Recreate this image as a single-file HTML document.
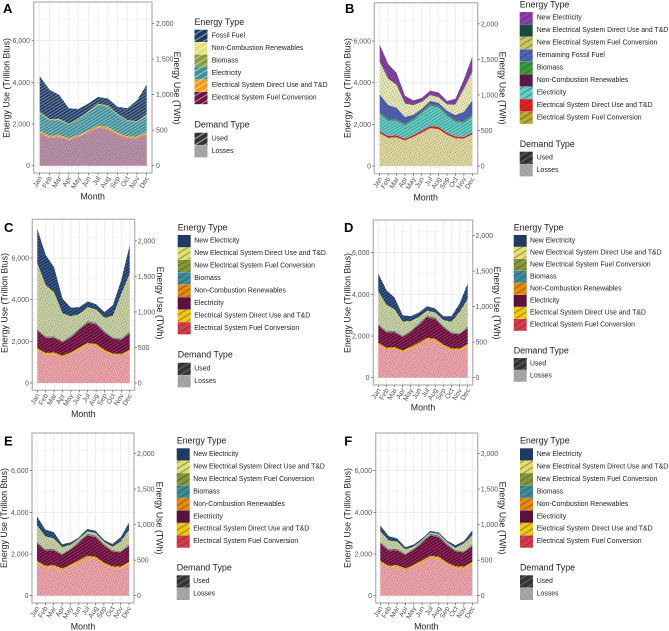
<!DOCTYPE html>
<html lang="en">
<head>
<meta charset="utf-8">
<title>Energy use by month</title>
<style>
html,body{margin:0;padding:0;background:#fff}
svg{display:block;font-family:"Liberation Sans",sans-serif;filter:blur(.3px)}
</style>
</head>
<body>
<svg id="fig" xmlns="http://www.w3.org/2000/svg" width="669" height="631" viewBox="0 0 669 631"></svg>
<script>
// ---- data (TBtu per month; each array is the thickness of one stacked layer) ----
const months = ['Jan','Feb','Mar','Apr','May','Jun','Jul','Aug','Sep','Oct','Nov','Dec'];
const leftTicks = [0,2000,4000,6000];
const rightTicks = [0,500,1000,1500,2000];
const fuelConversion = [1580,1350,1380,1230,1400,1600,1820,1770,1500,1330,1320,1520];
const directUse = [90,90,90,80,80,90,100,100,90,80,80,90];
const electricity = [850,730,710,650,720,860,980,950,830,720,680,790];
const biomass = [50,45,45,40,45,50,55,55,50,45,40,50];
const nonCombustion = [20,20,20,15,15,20,20,20,20,15,15,20];
const fossilA = [1710,1415,1155,735,470,360,325,335,340,570,995,1430];
const remainingFossilB = [860,695,555,335,200,130,155,135,160,260,465,680];
const newFuelB = [1550,1270,1100,650,460,330,270,270,300,500,1100,1370];
const newDirectB = [60,50,45,30,25,20,20,20,20,25,40,50];
const newElecB = [770,650,525,340,205,170,200,210,150,255,410,680];
const newFuelC = [3060,2365,2005,1265,890,650,605,585,590,980,2065,2680];
const newDirectC = [100,100,100,70,50,50,70,50,50,50,80,100];
const newElecC = [1650,1450,1200,700,420,320,270,250,270,510,670,1370];
const newFuelD = [1510,1215,985,635,420,240,205,195,240,450,965,1260];
const newDirectD = [50,50,50,50,40,40,40,40,40,40,50,50];
const newElecD = [850,700,570,300,230,230,210,190,180,270,400,740];
const newFuelE = [760,585,475,285,150,70,85,85,70,130,435,650];
const newDirectE = [30,30,30,30,30,30,30,30,30,30,30,30];
const newElecE = [420,320,300,140,120,80,110,110,90,130,200,350];
const newFuelF = [485,390,330,180,85,35,40,40,45,75,340,405];
const newDirectF = [25,25,25,25,25,25,25,25,25,25,25,25];
const newElecF = [270,210,150,110,80,70,70,70,80,130,120,230];
const TBTU_PER_TWH = 3.412;

// ---- series: listed top to bottom, as in each legend ----
const L = {ne:'New Electricity',nd:'New Electrical System Direct Use and T&D',nf:'New Electrical System Fuel Conversion',
  rf:'Remaining Fossil Fuel',ff:'Fossil Fuel',bm:'Biomass',nc:'Non-Combustion Renewables',el:'Electricity',
  du:'Electrical System Direct Use and T&D',fc:'Electrical System Fuel Conversion'};
function laterSeries(nf,nd,ne){return [
  {n:L.ne,c:'#1f3a66',ps:'#54709c',v:ne},{n:L.nd,c:'#e0e070',v:nd},{n:L.nf,c:'#84983a',v:nf,loss:1},
  {n:L.bm,c:'#3f8c98',v:biomass},{n:L.nc,c:'#e88a10',v:nonCombustion},{n:L.el,c:'#5e0f3c',ps:'#b8366e',v:electricity},
  {n:L.du,c:'#f0c810',v:directUse},{n:L.fc,c:'#d93a48',v:fuelConversion,loss:1}];}
const panels = [
 {id:'A',x0:33.7,x1:152,y0:2,y1:173,zero:165.7,jan:39.7,dec:146.7,lt:30,rt:156,ltx:6.7,rtx:177,mx:92.7,my:196.7,cy:88,
  lx:3,ly:13,legX:194.5,legT:22,legR:29.7,pitch:12.45,labX:211.7,demT:124.7,demR:132.7,stripe:'#ffffff',so:.62,
  series:[{n:L.ff,c:'#1f3a66',v:fossilA},{n:L.nc,c:'#e3e27a',v:nonCombustion},{n:L.bm,c:'#8a9c3c',v:biomass},
   {n:L.el,c:'#3f8f9a',v:electricity},{n:L.du,c:'#f09a20',v:directUse},{n:L.fc,c:'#6a1444',v:fuelConversion,loss:1}]},
 {id:'B',x0:374.3,x1:477.7,y0:2.7,y1:173.7,zero:166,jan:379.7,dec:472.3,lt:371,rt:480.7,ltx:347.3,rtx:502.3,mx:425.7,my:197.3,cy:88,
  lx:345,ly:13,legX:519.7,legT:4.3,legR:12,pitch:12.45,labX:536.7,demT:144,demR:151.7,stripe:'#333333',so:.55,
  series:[{n:L.ne,c:'#8b3fa8',v:newElecB},{n:L.nd,c:'#1b4a44',v:newDirectB},{n:L.nf,c:'#c9c964',v:newFuelB,loss:1},
   {n:L.rf,c:'#4e63b8',v:remainingFossilB},{n:L.bm,c:'#3a9a38',v:biomass},{n:L.nc,c:'#5a1a40',v:nonCombustion},
   {n:L.el,c:'#5fd0c8',v:electricity},{n:L.du,c:'#e02020',v:directUse},{n:L.fc,c:'#b8a830',v:fuelConversion,loss:1}]},
 {id:'C',x0:32.3,x1:134.7,y0:219.3,y1:390.3,zero:383,jan:37.3,dec:129.7,lt:29,rt:137.7,ltx:4.5,rtx:160,mx:83.3,my:414,cy:303,
  lx:4,ly:232,legX:177.7,legT:227.3,legR:235,pitch:12.45,labX:194.3,demT:354.7,demR:362.7,stripe:'#333333',so:.55,
  series:laterSeries(newFuelC,newDirectC,newElecC)},
 {id:'D',x0:373.3,x1:472.7,y0:220,y1:385,zero:377.7,jan:378.3,dec:467.7,lt:369.5,rt:475.5,ltx:347.7,rtx:497,mx:423,my:407.7,cy:303,
  lx:344,ly:232,legX:513.7,legT:227.3,legR:235,pitch:12,labX:530,demT:350.3,demR:358,stripe:'#333333',so:.55,
  series:laterSeries(newFuelD,newDirectD,newElecD)},
 {id:'E',x0:32,x1:134,y0:433,y1:603,zero:595.7,jan:37,dec:129,lt:28.5,rt:137,ltx:4,rtx:159.3,mx:83,my:626.7,cy:518,
  lx:4,ly:445.5,legX:176.7,legT:440.3,legR:448.3,pitch:12.45,labX:193.3,demT:567.3,demR:575.3,stripe:'#333333',so:.55,
  series:laterSeries(newFuelE,newDirectE,newElecE)},
 {id:'F',x0:375.7,x1:477.7,y0:433,y1:603,zero:595.7,jan:380.3,dec:472.3,lt:372,rt:480.7,ltx:347.7,rtx:502.7,mx:426.3,my:626.7,cy:518,
  lx:344.3,ly:445.5,legX:520,legT:440.3,legR:448.3,pitch:12.45,labX:536.7,demT:567.3,demR:575.3,stripe:'#333333',so:.55,
  series:laterSeries(newFuelF,newDirectF,newElecF)}
];

// ---- rendering ----
const NS='http://www.w3.org/2000/svg';
const svg=document.getElementById('fig');
const defs=document.createElementNS(NS,'defs');
svg.appendChild(defs);
function mk(tag,attrs,parent){
  const e=document.createElementNS(NS,tag);
  for(const k in attrs)e.setAttribute(k,attrs[k]);
  (parent||svg).appendChild(e);
  return e;
}
function txt(s,attrs,parent){const e=mk('text',attrs,parent);e.textContent=s;return e;}
let pid=0;
function mix(hex,w){
  const n=parseInt(hex.slice(1),16);
  const f=c=>Math.round(c*(1-w)+255*w);
  return 'rgb('+f(n>>16&255)+','+f(n>>8&255)+','+f(n&255)+')';
}
function stripePattern(color,stroke,op,size,sw){
  const id='p'+(pid++);
  const p=mk('pattern',{id:id,patternUnits:'userSpaceOnUse',width:size,height:size,patternTransform:'rotate(-32)'},defs);
  mk('rect',{width:size,height:size,fill:color},p);
  mk('line',{x1:0,x2:size,y1:size/2,y2:size/2,stroke:stroke,'stroke-width':sw,'stroke-opacity':op},p);
  return 'url(#'+id+')';
}
function dotPattern(color,size){
  const id='p'+(pid++);
  const p=mk('pattern',{id:id,patternUnits:'userSpaceOnUse',width:size,height:size,patternTransform:'rotate(-32)'},defs);
  mk('rect',{width:size,height:size,fill:color},p);
  mk('circle',{cx:size/2,cy:size/2,r:.55,fill:'#555','fill-opacity':.5},p);
  return 'url(#'+id+')';
}
panels.forEach(function(P){
  const g=mk('g',{});
  
  
  const xScale=i=>P.jan+(P.dec-P.jan)*i/(months.length-1);
  const yScale=v=>P.zero-v*125/6000;
  const y2Scale=t=>yScale(t*TBTU_PER_TWH);

  // grid
  const grid=mk('g',{},g);
  
  
  for(let v=0;v<=8000;v+=1000){
    const y=yScale(v);
    if(y<P.y0||y>P.y1)continue;
    mk('line',{x1:P.x0,x2:P.x1,y1:y,y2:y,stroke:'#ececec','stroke-width':v%2000?.5:.9},grid);
  }
  months.forEach(function(m,i){
    mk('line',{x1:xScale(i),x2:xScale(i),y1:P.y0,y2:P.y1,stroke:'#ececec','stroke-width':.9},grid);
  });

  // stacked areas, bottom layer first
  let lower=months.map(()=>0);
  const order=P.series.slice().reverse();
  order.forEach(function(s){
    const upper=lower.map((b,i)=>b+s.v[i]);
    const pts=[];
    upper.forEach((u,i)=>pts.push(xScale(i).toFixed(2)+','+yScale(u).toFixed(2)));
    for(let i=lower.length-1;i>=0;i--)pts.push(xScale(i).toFixed(2)+','+yScale(lower[i]).toFixed(2));
    const fill=s.loss?dotPattern(mix(s.c,.52),2.6):stripePattern(s.c,s.ps||P.stripe,s.ps?.85:P.so*.75,2.6,.8);
    const area=mk('polygon',{points:pts.join(' '),fill:fill},g);
    
    
    lower=upper;
  });

  // panel border
  const border=mk('rect',{x:P.x0,y:P.y0,width:P.x1-P.x0,height:P.y1-P.y0,fill:'none',stroke:'#b5b5b5','stroke-width':1.3},g);
  
  

  // left axis
  leftTicks.forEach(function(v){
    const y=yScale(v);
    mk('line',{x1:P.x0-2.2,x2:P.x0,y1:y,y2:y,stroke:'#444','stroke-width':.6},g);
    const t=txt(v.toLocaleString('en-US'),{x:P.lt,y:y+2.5,'font-size':7,fill:'#555','text-anchor':'end'},g);
    
    
  });
  // right axis
  rightTicks.forEach(function(v){
    const y=y2Scale(v);
    mk('line',{x1:P.x1,x2:P.x1+2.2,y1:y,y2:y,stroke:'#444','stroke-width':.6},g);
    const t=txt(v.toLocaleString('en-US'),{x:P.rt,y:y+2.5,'font-size':7,fill:'#555'},g);
    
    
  });
  // month axis
  months.forEach(function(m,i){
    const x=xScale(i);
    mk('line',{x1:x,x2:x,y1:P.y1,y2:P.y1+2.2,stroke:'#444','stroke-width':.6},g);
    const ty=P.y1+5;
    const t=txt(m,{x:x+2.6,y:ty,'font-size':7,fill:'#555','text-anchor':'end',transform:'rotate(-60 '+(x+2.6)+' '+ty+')'},g);
    
    
  });

  // axis titles
  const yt=txt('Energy Use (Trillion Btus)',{x:P.ltx,y:P.cy,'font-size':8.8,fill:'#222','text-anchor':'middle','dominant-baseline':'central',transform:'rotate(-90 '+P.ltx+' '+P.cy+')'},g);
  
  
  const y2t=txt('Energy Use (TWh)',{x:P.rtx,y:P.cy,'font-size':8.8,fill:'#222','text-anchor':'middle','dominant-baseline':'central',transform:'rotate(90 '+P.rtx+' '+P.cy+')'},g);
  
  
  const xt=txt('Month',{x:P.mx,y:P.my,'font-size':8.8,fill:'#222','text-anchor':'middle','dominant-baseline':'central'},g);
  
  
  const pl=txt(P.id,{x:P.lx,y:P.ly,'font-size':13,'font-weight':'bold',fill:'#000'},g);
  
  

  // legend
  const et=txt('Energy Type',{x:P.legX,y:P.legT,'font-size':8.9,fill:'#222','dominant-baseline':'central'},g);
  
  
  P.series.forEach(function(s,i){
    const y=P.legR+i*P.pitch;
    const entry=mk('g',{},g);
    
    
    mk('rect',{x:P.legX,y:y,width:13,height:P.pitch-.2,fill:stripePattern(s.c,P.stripe,P.so,5.2,.9)},entry);
    txt(s.n,{x:P.labX,y:y+P.pitch/2,'font-size':6.9,fill:'#222','dominant-baseline':'central'},entry);
  });
  const dt=txt('Demand Type',{x:P.legX,y:P.demT,'font-size':8.9,fill:'#222','dominant-baseline':'central'},g);
  
  
  const used=mk('g',{},g);
  
  
  mk('rect',{x:P.legX,y:P.demR,width:13,height:P.pitch-.2,fill:stripePattern('#333333',P.id==='A'?'#ffffff':'#888888',.7,5.2,.9)},used);
  txt('Used',{x:P.labX,y:P.demR+P.pitch/2,'font-size':6.9,fill:'#222','dominant-baseline':'central'},used);
  const loss=mk('g',{},g);
  
  
  mk('rect',{x:P.legX,y:P.demR+P.pitch,width:13,height:P.pitch-.2,fill:dotPattern('#a6a6a6',4)},loss);
  txt('Losses',{x:P.labX,y:P.demR+P.pitch*1.5,'font-size':6.9,fill:'#222','dominant-baseline':'central'},loss);
});
</script>
</body>
</html>
